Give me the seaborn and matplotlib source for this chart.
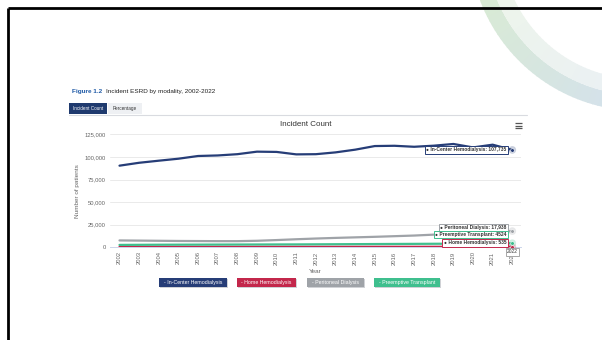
import numpy as np
import pandas as pd
import matplotlib
matplotlib.use("Agg")
import matplotlib.pyplot as plt
import seaborn as sns
from matplotlib.patches import Rectangle, Wedge

# ---------------- data ----------------
years = list(range(2002, 2023))
in_center = [90300, 93500, 95800, 98000, 101000, 101600, 103000, 105800, 105500, 102800,
             103000, 105000, 108000, 112000, 112300, 111200, 112400, 114300, 110500, 113500, 107735]
home_hd = [450, 470, 480, 490, 500, 510, 520, 520, 530, 540,
           540, 550, 560, 560, 570, 570, 580, 580, 560, 560, 535]
peritoneal = [7600, 7400, 7200, 7000, 6900, 6800, 6800, 7200, 8000, 8900,
              9700, 10400, 11000, 11600, 12300, 13000, 14000, 15000, 15800, 16800, 17938]
preemptive = [2650, 2750, 2850, 2900, 2950, 3000, 3050, 3100, 3150, 3200,
              3300, 3400, 3500, 3600, 3700, 3800, 3900, 4000, 3950, 4300, 4524]
series_names = ["In-Center Hemodialysis", "Home Hemodialysis", "Peritoneal Dialysis", "Preemptive Transplant"]
series_colors = ["#263d77", "#c3274b", "#9fa3a8", "#3fbf8e"]
end_labels = ["107,735", "535", "17,938", "4524"]
y_ticks = [0, 25000, 50000, 75000, 100000, 125000]

df = pd.DataFrame({"Year": years * 4,
                   "Patients": in_center + home_hd + peritoneal + preemptive,
                   "Modality": sum([[n] * len(years) for n in series_names], [])})

sns.set_style("white")
plt.rcParams["font.family"] = ["Liberation Sans", "DejaVu Sans"]

W, H = 602, 340
fig = plt.figure(figsize=(W / 100, H / 100), dpi=100)

# background / page axes in pixel coordinates
bg = fig.add_axes([0, 0, 1, 1])
bg.set_xlim(0, W)
bg.set_ylim(H, 0)
bg.axis("off")

# decorative arc (top right), pale green -> pale blue
cx, cy = 640, -60
n = 40
g_out, b_out = np.array([0.85, 0.92, 0.83]), np.array([0.83, 0.88, 0.93])
g_in, b_in = np.array([0.93, 0.96, 0.92]), np.array([0.92, 0.94, 0.96])
for i in range(n):
    a0 = 92 + i * (70 / n)
    a1 = a0 + 70 / n + 0.3
    t = i / (n - 1)  # 0 -> right side (blue), 1 -> top (green)
    c_out = b_out * (1 - t) + g_out * t
    c_in = b_in * (1 - t) + g_in * t
    bg.add_patch(Wedge((cx, cy), 171, a0, a1, width=16, facecolor=c_out, edgecolor="none", zorder=1))
    bg.add_patch(Wedge((cx, cy), 155, a0, a1, width=16, facecolor=c_in, edgecolor="none", zorder=1))

# black frame
bg.plot([7.5, W], [7.5, 7.5], color="black", lw=2.0, solid_capstyle="butt", zorder=3)
bg.plot([7.5, 7.5], [7.5, H], color="black", lw=2.0, solid_capstyle="butt", zorder=3)

# header
t1 = bg.text(72, 91, "Figure 1.2", color="#1f5aa6", fontsize=4.6, fontweight="bold", va="center", ha="left")
bg.annotate("Incident ESRD by modality, 2002-2022", xy=(1, 0.5), xycoords=t1,
            xytext=(4, 0), textcoords="offset pixels", color="#222222", fontsize=4.6,
            va="center", ha="left")

# tab buttons
bg.add_patch(Rectangle((69, 103), 38, 10.5, facecolor="#1f3a6e", edgecolor="none", zorder=2))
bg.text(88, 108.3, "Incident Count", color="white", fontsize=3.3, ha="center", va="center", zorder=3)
bg.add_patch(Rectangle((108, 103), 34, 10.5, facecolor="#eef0f3", edgecolor="none", zorder=2))
bg.text(125, 108.3, "Percentage", color="#333333", fontsize=3.3, ha="center", va="center", zorder=3)
bg.plot([69, 527], [115, 115], color="#d9dbe0", lw=0.8, zorder=2)

# chart title & menu icon
bg.text(306, 124.5, "Incident Count", color="#333333", fontsize=5.8, ha="center", va="center")
for dy in (-2.2, 0, 2.2):
    bg.plot([514.5, 521.5], [125.5 + dy, 125.5 + dy], color="#555555", lw=0.9, solid_capstyle="butt")

# legend buttons
leg_boxes = [(159, 68), (237, 59), (307, 57), (374, 66)]
for (x0, w), name, col in zip(leg_boxes, series_names, series_colors):
    bg.add_patch(Rectangle((x0 + 1.2, 279.2), w, 9, facecolor="#d0d2d6", edgecolor="none", zorder=2))
    bg.add_patch(Rectangle((x0, 278), w, 9, facecolor=col, edgecolor="none", zorder=3))
    bg.text(x0 + w / 2, 282.6, "- " + name, color="white", fontsize=3.8, ha="center", va="center", zorder=4)

# ---------------- chart ----------------
x_left, x_right = 110, 521
y_bottom, y_top = 247.3, 134.3
ax = fig.add_axes([x_left / W, 1 - y_bottom / H, (x_right - x_left) / W, (y_bottom - y_top) / H])
ax.patch.set_alpha(0)

sns.lineplot(data=df, x="Year", y="Patients", hue="Modality", hue_order=series_names,
             palette=series_colors, linewidth=1.6, legend=False, ax=ax, zorder=3)

px_per_year = 19.64
ax.set_xlim(2002 - 9.5 / px_per_year, 2022 + 8.7 / px_per_year)
ax.set_ylim(0, 125000)
ax.set_yticks(y_ticks)
ax.set_yticklabels([f"{v:,}" for v in y_ticks])
ax.set_xticks(years)
ax.set_xticklabels([str(y) for y in years], rotation=90)
ax.tick_params(axis="both", length=0, labelsize=4.2, labelcolor="#666666")
ax.tick_params(axis="y", pad=3)
ax.tick_params(axis="x", pad=3)
ax.grid(axis="y", color="#e6e6e6", lw=0.6)
ax.grid(axis="x", visible=False)
for s in ["top", "right", "left"]:
    ax.spines[s].set_visible(False)
ax.spines["bottom"].set_color("#ccd6eb")
ax.spines["bottom"].set_linewidth(0.7)
ax.set_xlabel("Year", fontsize=4.6, color="#666666", labelpad=3)
ax.set_ylabel("Number of patients", fontsize=4.6, color="#666666", labelpad=3)

# end-point markers
last_vals = [s[-1] for s in (in_center, home_hd, peritoneal, preemptive)]
for v, col in zip(last_vals, series_colors):
    ax.scatter([years[-1]], [v], s=30, color=col, alpha=0.25, edgecolor="none", zorder=4, clip_on=False)
    ax.scatter([years[-1]], [v], s=7, color=col, edgecolor="white", linewidth=0.4, zorder=5, clip_on=False)

# tooltip labels
offsets = [0, 4, 3.6, 8.5]
for name, col, v, lab, off in zip(series_names, series_colors, last_vals, end_labels, offsets):
    ax.annotate(f"\u25cf {name}: {lab}", xy=(years[-1], v), xytext=(-6, off), textcoords="offset pixels",
                ha="right", va="center", fontsize=3.5, color="#333333", fontweight="bold",
                bbox=dict(boxstyle="square,pad=0.25", facecolor="white", edgecolor=col, lw=0.7),
                zorder=6, annotation_clip=False)
ax.annotate("2022", xy=(years[-1], 0), xytext=(0, -2), textcoords="offset pixels",
            ha="center", va="top", fontsize=3.5, color="#333333",
            bbox=dict(boxstyle="square,pad=0.25", facecolor="white", edgecolor="#999999", lw=0.6),
            zorder=6, annotation_clip=False)

fig.savefig("out.png", dpi=100)
